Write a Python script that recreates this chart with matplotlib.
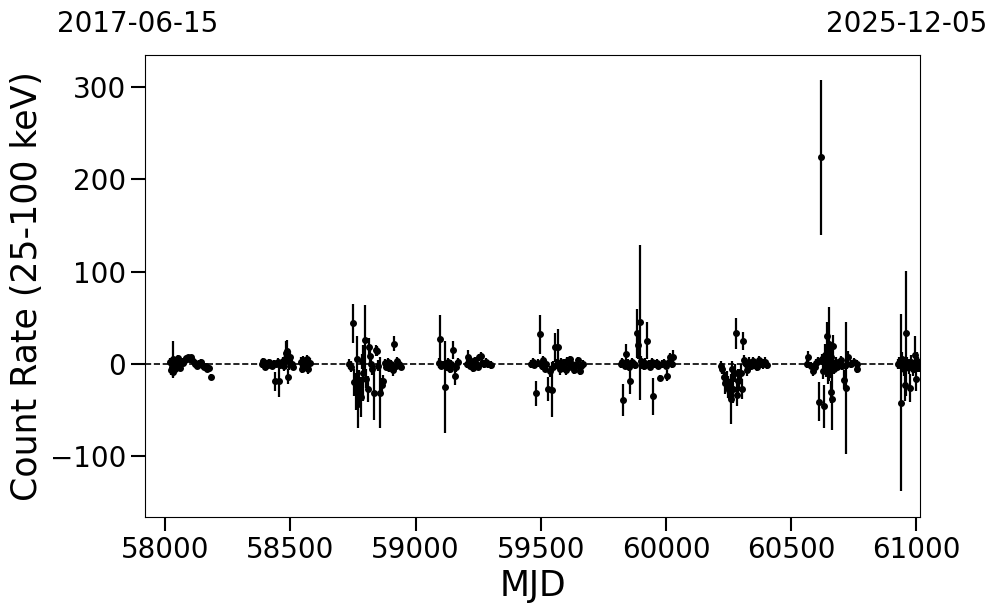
import matplotlib
matplotlib.use("Agg")
import matplotlib.pyplot as plt
import numpy as np

# light curve, one list per observing season (MJD, rate, 1-sigma error)
mjd_1 = [58020, 58023, 58026, 58029, 58032, 58034, 58037, 58040, 58043, 58046, 58049, 58053,
         58057, 58061, 58066, 58071, 58077, 58083, 58090, 58096, 58102, 58108, 58114, 58120,
         58127, 58134, 58141, 58148, 58155, 58162, 58168, 58175, 58183]
rate_1 = [2, -7, -3, -9, 5, 1, 4, -5, 3, -2, 6, 0, -4, 2, 3, 1, 4, 6, 7, 5, 7, 4, 2, 0,
          -2, 1, 2, -1, -3, -2, -5, -4, -14]
err_1 = [4, 5, 4, 5, 20, 3, 4, 5, 4, 3, 4, 3, 4, 3, 3, 3, 3, 3, 3, 3, 3, 3, 3, 3,
         3, 3, 3, 3, 3, 3, 3, 3, 3]

mjd_2 = [58386, 58392, 58398, 58404, 58410, 58416, 58422, 58428, 58434, 58438, 58444, 58450,
         58455, 58460, 58466, 58472, 58476, 58480, 58484, 58488, 58492, 58496, 58500, 58505,
         58510, 58540, 58545, 58550, 58555, 58560, 58565, 58570, 58576]
rate_2 = [0, 3, -3, 1, -1, 2, 0, -2, 1, -19, 0, 2, -19, -1, 1, 3, -2, 5, 12, 14, -14, 3, 8, 0,
          -3, 2, -5, 4, -3, 0, 5, -6, 1]
err_2 = [4, 3, 4, 3, 3, 3, 3, 3, 3, 10, 3, 4, 17, 3, 4, 5, 6, 8, 13, 12, 8, 10, 6, 4,
         4, 5, 5, 5, 5, 5, 5, 5, 5]

mjd_3 = [58735, 58742, 58751, 58755, 58760, 58765, 58771, 58775, 58780, 58785, 58790, 58798,
         58803, 58808, 58812, 58816, 58820, 58826, 58834, 58840, 58845, 58850, 58858, 58864,
         58870, 58876, 58882, 58888, 58895, 58902, 58908, 58914, 58920, 58926, 58933, 58940]
rate_3 = [0, -3, 44, -20, -30, 5, -43, -25, -36, 3, -10, 26, -16, -27, 18, 9, 0, -5, -31, 15,
          14, -2, -31, -23, -18, 1, -3, 2, -4, 0, -7, 22, -2, 3, 0, -3]
err_3 = [5, 6, 21, 15, 20, 25, 26, 18, 22, 8, 30, 38, 10, 14, 10, 8, 5, 7, 30, 6,
         5, 6, 39, 8, 6, 4, 4, 4, 5, 4, 6, 8, 5, 5, 4, 4]

mjd_4 = [59092, 59097, 59103, 59110, 59117, 59124, 59130, 59136, 59143, 59150, 59156, 59162,
         59168, 59205, 59209, 59215, 59222, 59228, 59235, 59241, 59248, 59254, 59260, 59266,
         59272, 59280, 59290, 59300]
rate_4 = [1, 27, -2, 0, -25, -3, 2, -5, 0, 15, -13, -3, 2, 0, 7, -2, 3, -4, 4, 0, -3, 7, 9, 1,
          0, 2, 0, -1]
err_4 = [5, 26, 4, 3, 50, 5, 4, 5, 4, 10, 10, 6, 4, 4, 8, 4, 4, 5, 4, 4, 4, 4, 4, 4,
         4, 4, 4, 4]

mjd_5 = [59460, 59467, 59474, 59481, 59488, 59497, 59503, 59509, 59515, 59522, 59530, 59536,
         59543, 59550, 59557, 59563, 59570, 59576, 59582, 59588, 59594, 59600, 59606, 59612,
         59618, 59625, 59632, 59640, 59648, 59655, 59662, 59668]
rate_5 = [0, 2, -1, -32, 1, 32, -2, 4, -5, 0, -27, -8, -28, -3, 18, 0, 18, -6, 2, -4, 1, -7,
          3, -3, 5, 0, -7, -2, 4, -8, -2, 0]
err_5 = [4, 4, 3, 14, 4, 21, 5, 5, 4, 4, 13, 6, 30, 6, 16, 5, 20, 6, 4, 5, 4, 5,
         4, 4, 4, 4, 4, 4, 4, 4, 4, 4]

mjd_6 = [59818, 59824, 59829, 59835, 59840, 59846, 59852, 59856, 59862, 59870, 59877, 59883,
         59889, 59896, 59900, 59905, 59910, 59916, 59923, 59930, 59936, 59942, 59949, 59955,
         59962, 59968, 59976, 59985, 59992, 59998, 60003, 60010, 60016, 60022, 60027]
rate_6 = [0, 2, -39, -2, 11, 1, -3, -18, 2, 0, -1, 33, 20, 45, 3, 0, -2, 1, 25, 0, -3, 2, -35,
          0, 1, -2, -15, 0, 1, -2, -13, 2, 7, 0, 7]
err_6 = [4, 4, 17, 4, 11, 4, 5, 15, 4, 4, 4, 27, 15, 84, 6, 5, 5, 5, 20, 4, 4, 4, 20,
         4, 4, 4, 3, 4, 4, 4, 6, 4, 5, 4, 8]

mjd_7 = [60218, 60225, 60232, 60237, 60242, 60248, 60252, 60258, 60264, 60269, 60274, 60279,
         60282, 60287, 60292, 60298, 60302, 60306, 60312, 60318, 60322, 60330, 60338, 60346,
         60354, 60362, 60370, 60378, 60386, 60394, 60402]
rate_7 = [-2, -5, -14, -21, -18, -25, -28, -38, -5, -27, -10, 33, -34, -18, -17, -10, -27, 25,
          4, 0, -7, 2, -2, 3, 0, -3, 4, 1, 0, 2, -1]
err_7 = [5, 6, 10, 12, 10, 12, 10, 27, 8, 15, 10, 17, 12, 13, 12, 10, 11, 10,
         6, 5, 6, 5, 5, 5, 5, 5, 5, 5, 5, 5, 5]

mjd_8 = [60562, 60568, 60580, 60588, 60595, 60600, 60606, 60612, 60619, 60624, 60628, 60631,
         60634, 60636, 60638, 60640, 60642, 60644, 60646, 60648, 60651, 60654, 60657, 60660,
         60662, 60665, 60668, 60672, 60678, 60684, 60690, 60697, 60704, 60710, 60719, 60724,
         60728, 60740, 60750, 60761, 60764]
rate_8 = [0, 8, -2, -8, -3, 1, 3, -41, 224, 5, -8, -46, 0, 10, -4, 2, 30, 6, 15, -10, 22, -5,
          8, -30, -38, 0, 19, -5, 2, -3, 0, 4, -2, -17, -26, 0, 8, 0, 2, -6, 0]
err_8 = [4, 6, 4, 5, 4, 4, 5, 21, 84, 6, 8, 23, 8, 12, 10, 10, 15, 14, 15, 12, 40, 10,
         15, 12, 34, 8, 12, 6, 5, 5, 5, 5, 5, 10, 72, 6, 6, 4, 4, 4, 4]

mjd_9 = [60928, 60932, 60938, 60944, 60950, 60954, 60958, 60964, 60970, 60974, 60980, 60986,
         60994, 60998, 61003, 61007, 61012]
rate_9 = [0, 1, -42, 5, -5, -23, 33, 0, -3, -26, 2, -5, 10, -16, 3, -1, -3]
err_9 = [5, 6, 96, 8, 8, 17, 68, 8, 8, 15, 8, 8, 20, 13, 10, 8, 6]

mjd = np.concatenate([mjd_1, mjd_2, mjd_3, mjd_4, mjd_5, mjd_6, mjd_7, mjd_8, mjd_9])
rate = np.concatenate([rate_1, rate_2, rate_3, rate_4, rate_5, rate_6, rate_7, rate_8, rate_9])
err = np.concatenate([err_1, err_2, err_3, err_4, err_5, err_6, err_7, err_8, err_9])

date_start = "2017-06-15"
date_end = "2025-12-05"
mjd_start = 57919   # 2017-06-15
mjd_end = 61014     # 2025-12-05

fig = plt.figure(figsize=(9.97, 6.13), dpi=100)
ax = fig.add_axes([145 / 997, 1 - 517 / 613, 775 / 997, 462 / 613])

ax.errorbar(mjd, rate, yerr=err, fmt='o', color='k', ms=4, elinewidth=1.6, capsize=0)
ax.axhline(0, color='k', ls='--', lw=1.2)

ax.set_xlim(mjd_start, mjd_end)
ax.set_ylim(-166, 335)
ax.set_xticks([58000, 58500, 59000, 59500, 60000, 60500, 61000])
ax.set_yticks([-100, 0, 100, 200, 300])
ax.tick_params(axis='both', which='major', labelsize=20, length=10, width=1.5)

ax.set_xlabel("MJD", fontsize=25)
ax.set_ylabel("Count Rate (25-100 keV)", fontsize=25)

fig.text(57 / 997, 1 - 32 / 613, date_start, fontsize=20, ha='left', va='baseline')
fig.text(987 / 997, 1 - 32 / 613, date_end, fontsize=20, ha='right', va='baseline')

fig.savefig("out.png", dpi=100)
